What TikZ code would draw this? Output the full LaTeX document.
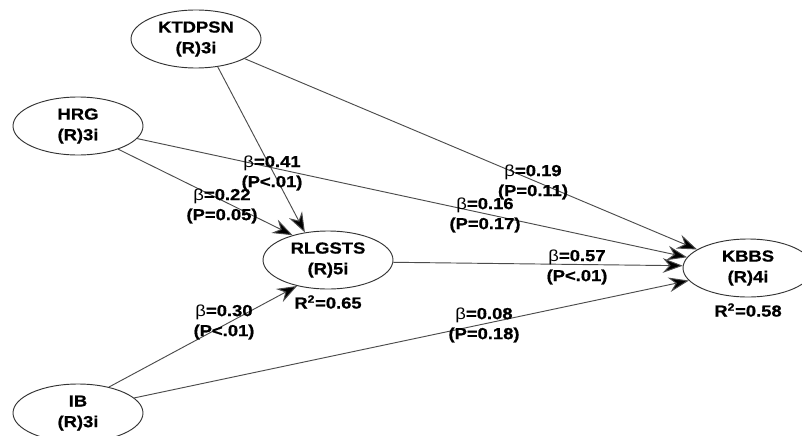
\documentclass[tikz,border=0pt]{standalone}
\usepackage{fontspec}
\setmainfont{Liberation Sans}[FakeStretch=1.15,BoldFeatures={FakeBold=0.8}]
\usetikzlibrary{shapes.geometric,arrows.meta}
\tikzset{
  lv/.style={ellipse,draw=black!80,line width=0.7pt,inner sep=0pt,
    minimum width=97.5pt,minimum height=43.5pt,align=center,
    font=\bfseries\fontsize{12}{15.5}\selectfont},
  coef/.style={align=center,inner sep=0pt,font=\bfseries\fontsize{12}{15}\selectfont},
  path/.style={draw=black!70,line width=0.7pt,-{Stealth[length=15pt,width=11pt,inset=5pt,fill=black]}}
}
\newcommand{\bb}{{\mdseries β}}
\begin{document}
\begin{tikzpicture}[x=0.75pt,y=-0.75pt]
\useasboundingbox (0,0) rectangle (802,435);
\clip (0,0) rectangle (802,435);
\fill[white] (0,0) rectangle (802,435);
\node[lv] (KTDPSN) at (196,39) {KTDPSN\\(R)3i};
\node[lv] (HRG) at (78,126) {HRG\\(R)3i};
\node[lv] (RLGSTS) at (328,260) {RLGSTS\\(R)5i};
\node[lv] (IB) at (78,413) {IB\\(R)3i};
\node[lv] (KBBS) at (748,268) {KBBS\\(R)4i};
\node[coef] (r1) at (328,302) {R\textsuperscript{2}=0.65};
\node[coef] (r2) at (748,310) {R\textsuperscript{2}=0.58};
\draw[path] (KTDPSN.-52) -- (RLGSTS.130);
\draw[path] (KTDPSN.-22) -- (KBBS.160);
\draw[path] (HRG.-30) -- (RLGSTS.145);
\draw[path] (HRG.-12) -- (KBBS.170);
\draw[path] (RLGSTS.-2) -- (KBBS.178);
\draw[path] (IB.40) -- (RLGSTS.-140);
\draw[path] (IB.15) -- (KBBS.-168);
\node[coef] (l1) at (272,173) {\bb=0.41\\(P<.01)};
\node[coef] (l2) at (222,206) {\bb=0.22\\(P=0.05)};
\node[coef] (l3) at (533,182) {\bb=0.19\\(P=0.11)};
\node[coef] (l4) at (485,215) {\bb=0.16\\(P=0.17)};
\node[coef] (l5) at (577,267) {\bb=0.57\\(P<.01)};
\node[coef] (l6) at (484,325) {\bb=0.08\\(P=0.18)};
\node[coef] (l7) at (224,322) {\bb=0.30\\(P<.01)};
\end{tikzpicture}
\end{document}
